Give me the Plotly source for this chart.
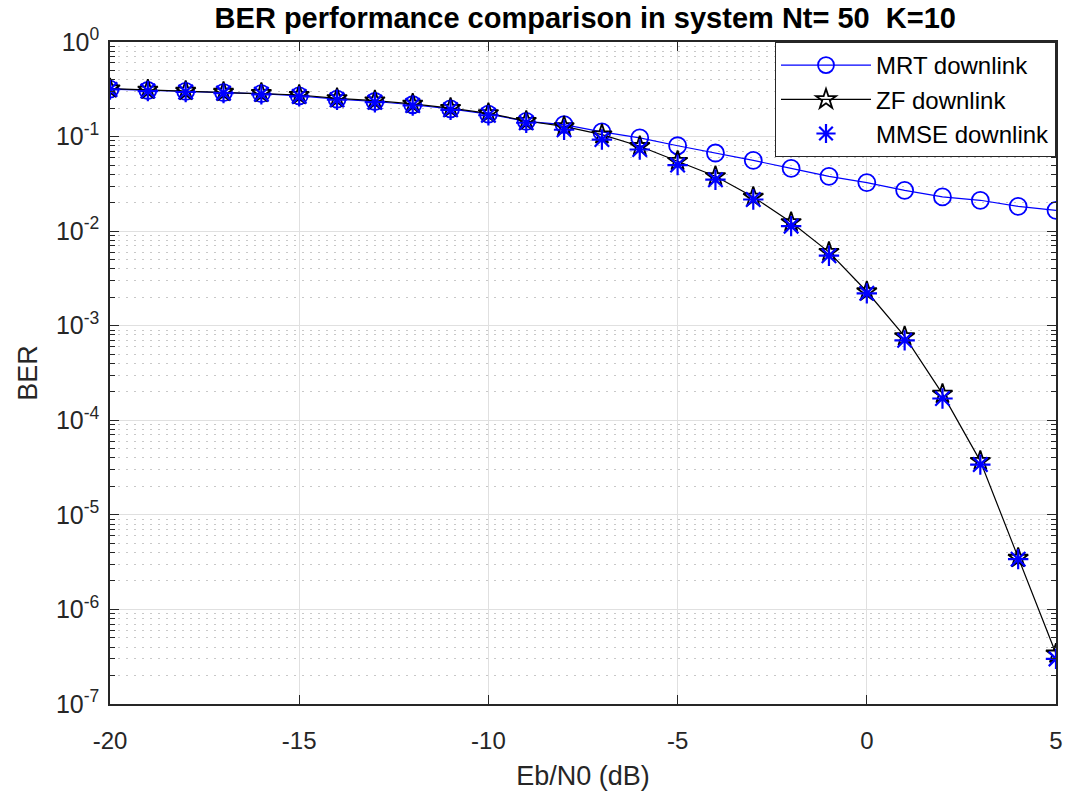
import plotly.graph_objects as go

# Eb/N0 sweep (dB)
ebn0_db = list(range(-20, 6))

# Simulated bit error rates for each precoder
ber_mrt = [0.318, 0.307, 0.300, 0.292, 0.284, 0.270, 0.249, 0.235, 0.217, 0.196,
           0.173, 0.145, 0.134, 0.112, 0.097, 0.080, 0.067, 0.056, 0.046, 0.038,
           0.0326, 0.027, 0.023, 0.0212, 0.0183, 0.0166]
ber_zf = [0.322, 0.312, 0.304, 0.296, 0.288, 0.275, 0.254, 0.240, 0.222, 0.200,
          0.176, 0.146, 0.128, 0.105, 0.079, 0.055, 0.038, 0.023, 0.0124, 0.0060,
          0.0023, 7.7e-4, 1.9e-4, 3.7e-5, 3.5e-6, 3.4e-7]
ber_mmse = [0.315, 0.303, 0.296, 0.288, 0.280, 0.266, 0.245, 0.231, 0.213, 0.192,
            0.168, 0.140, 0.118, 0.093, 0.073, 0.050, 0.035, 0.0216, 0.0113, 0.0055,
            0.0022, 7.0e-4, 1.7e-4, 3.4e-5, 3.4e-6, 3.0e-7]

x_ticks = [-20, -15, -10, -5, 0, 5]
y_exponents = [0, -1, -2, -3, -4, -5, -6, -7]

FONT = "Liberation Sans, Arial, sans-serif"
AXIS_COLOR = "#262626"
BLUE = "#0000FF"

# minor log ticks: 2..9 within each decade
minor_vals = [k * 10.0 ** e for e in range(-7, 0) for k in range(2, 10)]

fig = go.Figure()

fig.add_trace(go.Scatter(
    x=ebn0_db, y=ber_mrt, name="MRT downlink", mode="lines+markers",
    line=dict(color=BLUE, width=1.2),
    marker=dict(symbol="circle-open", size=17, color=BLUE, line=dict(width=1.8)),
))
fig.add_trace(go.Scatter(
    x=ebn0_db, y=ber_zf, name="ZF downlink", mode="lines+markers",
    line=dict(color="black", width=1.2),
    marker=dict(symbol="star-open", size=15, color="black", line=dict(width=1.8)),
))
fig.add_trace(go.Scatter(
    x=ebn0_db, y=ber_mmse, name="MMSE downlink", mode="markers",
    marker=dict(symbol="asterisk-open", size=17, color=BLUE, line=dict(width=2.2, color=BLUE)),
))

fig.update_layout(
    width=1071, height=794,
    margin=dict(l=110, r=8, t=42, b=87),
    paper_bgcolor="white", plot_bgcolor="white",
    font=dict(family=FONT, color=AXIS_COLOR, size=24),
    title=dict(
        text="<b>BER performance comparison in system Nt= 50  K=10</b>",
        x=0.5465, xanchor="center", y=0.977, yanchor="middle",
        font=dict(family=FONT, size=29, color="black"),
    ),
    showlegend=True,
    legend=dict(
        x=1, xanchor="right", y=1, yanchor="top",
        bgcolor="white", bordercolor=AXIS_COLOR, borderwidth=1,
        font=dict(family=FONT, size=24, color="black"),
        itemwidth=90, tracegroupgap=0,
    ),
)

fig.update_xaxes(
    range=[-20, 5], tickvals=x_ticks, ticktext=[str(v) for v in x_ticks],
    showgrid=True, gridcolor="#E0E0E0", gridwidth=1,
    showline=True, linecolor=AXIS_COLOR, linewidth=1.5, mirror="ticks",
    ticks="inside", ticklen=9, tickcolor=AXIS_COLOR,
    zeroline=False, tickfont=dict(size=24), ticklabelstandoff=14,
    title=dict(text="Eb/N0 (dB)", font=dict(size=27), standoff=14),
)
fig.update_yaxes(
    type="log", range=[-7, 0],
    tickvals=[10 ** e for e in y_exponents],
    ticktext=[f"10<sup>{e}</sup>" for e in y_exponents],
    showgrid=True, gridcolor="#E0E0E0", gridwidth=1,
    showline=True, linecolor=AXIS_COLOR, linewidth=1.5, mirror="ticks",
    ticks="inside", ticklen=9, tickcolor=AXIS_COLOR,
    minor=dict(tickmode="array", tickvals=minor_vals,
               ticks="inside", ticklen=5, tickcolor=AXIS_COLOR,
               showgrid=True, gridcolor="#C8C8C8", griddash="2px,6px", gridwidth=1),
    zeroline=False, tickfont=dict(size=25), ticklabelstandoff=4,
    title=dict(text="BER", font=dict(size=27), standoff=10),
)

fig.write_html("out.html")
